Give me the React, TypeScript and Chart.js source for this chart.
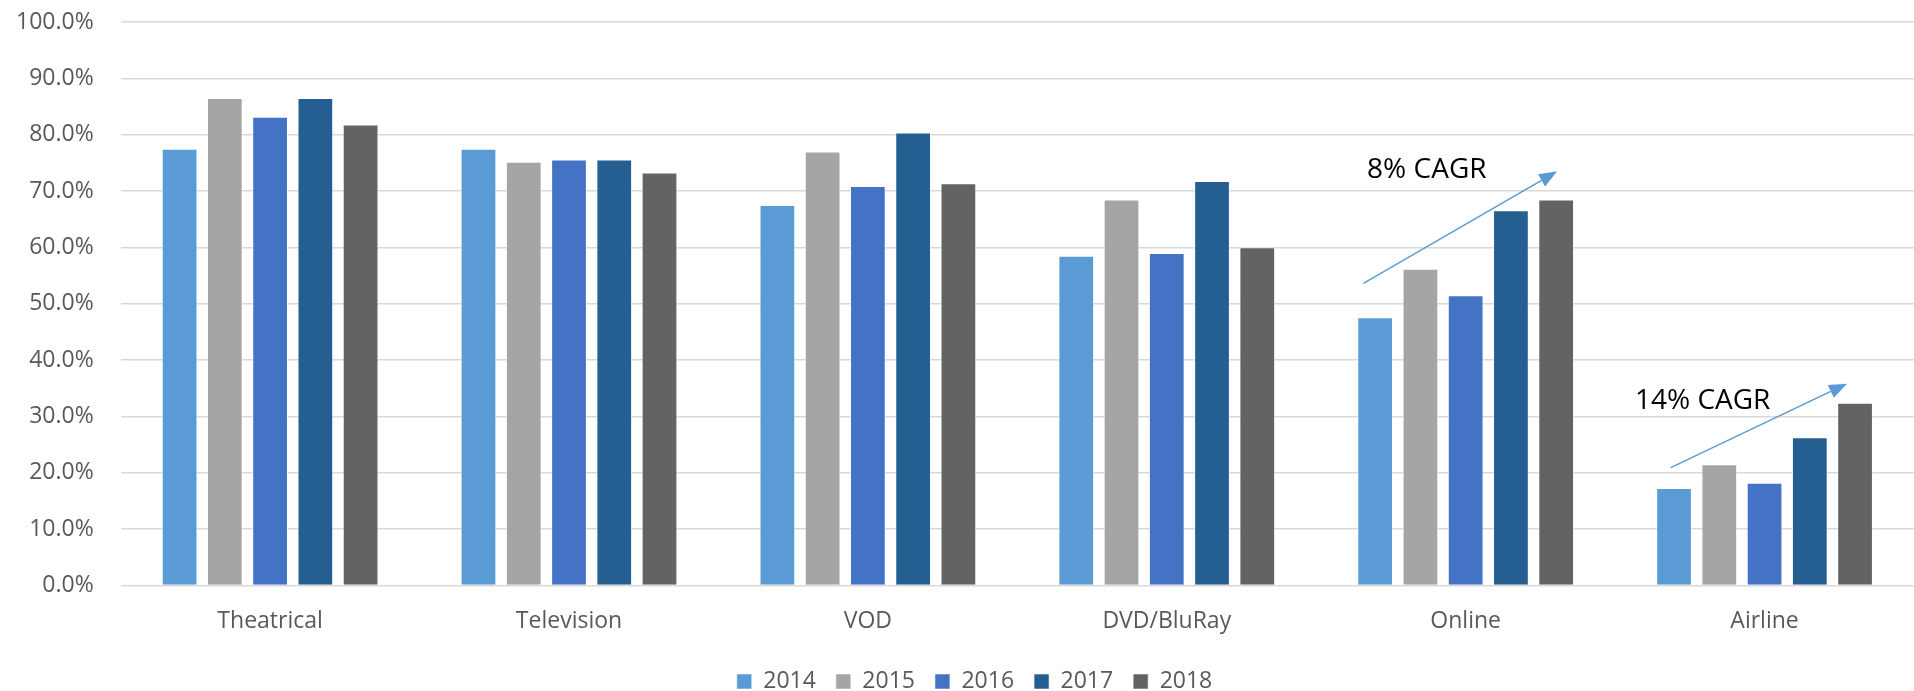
import React, { useEffect, useRef } from "react";
import { Chart, registerables } from "chart.js";

Chart.register(...registerables);

const categories = ["Theatrical", "Television", "VOD", "DVD/BluRay", "Online", "Airline"];
const seriesLabels = ["2014", "2015", "2016", "2017", "2018"];
const values2014 = [77.5, 77.5, 67.5, 58.5, 47.6, 17.3];
const values2015 = [86.5, 75.2, 77.0, 68.5, 56.2, 21.5];
const values2016 = [83.2, 75.6, 70.9, 59.0, 51.5, 18.2];
const values2017 = [86.5, 75.6, 80.4, 71.8, 66.6, 26.3];
const values2018 = [81.8, 73.3, 71.4, 60.0, 68.5, 32.4];
const seriesColors = ["#5B9BD5", "#A5A5A5", "#4472C4", "#255E91", "#636363"];

// Annotations (category index + fraction, value in %)
const annotationTexts = ["8% CAGR", "14% CAGR"];
const annotationTextX = [4 - 0.13, 5 - 0.207];
const annotationTextY = [73.8, 32.7];
const arrowStartX = [4 - 0.342, 5 - 0.314];
const arrowStartY = [53.6, 20.9];
const arrowEndX = [4 + 0.306, 5 + 0.276];
const arrowEndY = [73.5, 35.8];

const annotationPlugin = {
  id: "cagrAnnotations",
  afterDatasetsDraw(chart: any) {
    const { ctx, scales } = chart;
    const xs = scales.x;
    const ys = scales.y;
    ctx.save();
    for (let i = 0; i < annotationTexts.length; i++) {
      const x1 = xs.getPixelForValue(arrowStartX[i]);
      const y1 = ys.getPixelForValue(arrowStartY[i]);
      const x2 = xs.getPixelForValue(arrowEndX[i]);
      const y2 = ys.getPixelForValue(arrowEndY[i]);
      const ang = Math.atan2(y2 - y1, x2 - x1);
      const headLen = 18;
      const headW = 7;
      const bx = x2 - headLen * Math.cos(ang);
      const by = y2 - headLen * Math.sin(ang);
      ctx.strokeStyle = "#5B9BD5";
      ctx.fillStyle = "#5B9BD5";
      ctx.lineWidth = 1.5;
      ctx.beginPath();
      ctx.moveTo(x1, y1);
      ctx.lineTo(bx, by);
      ctx.stroke();
      ctx.beginPath();
      ctx.moveTo(x2, y2);
      ctx.lineTo(bx + headW * Math.sin(ang), by - headW * Math.cos(ang));
      ctx.lineTo(bx - headW * Math.sin(ang), by + headW * Math.cos(ang));
      ctx.closePath();
      ctx.fill();

      ctx.fillStyle = "#000000";
      ctx.font = '28px "Open Sans"';
      ctx.textAlign = "center";
      ctx.textBaseline = "middle";
      ctx.fillText(annotationTexts[i], xs.getPixelForValue(annotationTextX[i]), ys.getPixelForValue(annotationTextY[i]));
    }
    ctx.restore();
  },
};

const legendAdjustPlugin = {
  id: "legendAdjust",
  beforeLayout(chart: any) {
    const lg = chart.legend;
    if (lg && !lg.__patched) {
      const origFit = lg.fit.bind(lg);
      lg.fit = () => {
        origFit();
        lg.height = Math.max(0, lg.height - 11);
      };
      lg.__patched = true;
    }
  },
  afterLayout(chart: any) {
    const lg = chart.legend;
    if (lg) {
      const dx = 11;
      const dy = 1;
      lg.left += dx;
      lg.right += dx;
      lg.top += dy;
      lg.bottom += dy;
    }
  },
};

export default function App() {
  const canvasRef = useRef<HTMLCanvasElement>(null);

  useEffect(() => {
    const seriesValues = [values2014, values2015, values2016, values2017, values2018];
    const chart = new Chart(canvasRef.current!, {
      type: "bar",
      data: {
        labels: categories,
        datasets: seriesLabels.map((label, i) => ({
          label,
          data: seriesValues[i],
          backgroundColor: seriesColors[i],
          borderColor: "rgba(255,255,255,0.55)",
          borderWidth: 1,
          categoryPercentage: 0.757,
          barPercentage: 0.79,
        })),
      },
      options: {
        animation: false,
        responsive: false,
        maintainAspectRatio: false,
        layout: { padding: { left: 13, right: 0, top: 22, bottom: 0 } },
        plugins: {
          tooltip: { enabled: false },
          legend: {
            position: "bottom",
            labels: {
              boxWidth: 15,
              boxHeight: 15,
              padding: 20,
              color: "#595959",
              font: { family: "Open Sans", size: 23 },
            },
          },
        },
        scales: {
          x: {
            grid: { display: false, drawTicks: true, tickLength: 8 },
            border: { display: false },
            ticks: {
              color: "#595959",
              font: { family: "Open Sans", size: 23 },
              padding: 14,
              maxRotation: 0,
            },
          },
          y: {
            min: 0,
            max: 100,
            grid: { color: "#D9D9D9", lineWidth: 1.5, drawTicks: true, tickLength: 24, tickColor: "rgba(0,0,0,0)" },
            border: { display: false },
            ticks: {
              stepSize: 10,
              color: "#595959",
              padding: 3,
              font: { family: "Open Sans", size: 23 },
              callback: (v: any) => Number(v).toFixed(1) + "%",
            },
          },
        },
      },
      plugins: [annotationPlugin, legendAdjustPlugin],
    });
    return () => chart.destroy();
  }, []);

  return (
    <div style={{ position: "fixed", left: 0, top: 0, width: 1914, height: 691, background: "#fff" }}>
      <canvas ref={canvasRef} width={1914} height={691} style={{ width: 1914, height: 691 }} />
    </div>
  );
}
